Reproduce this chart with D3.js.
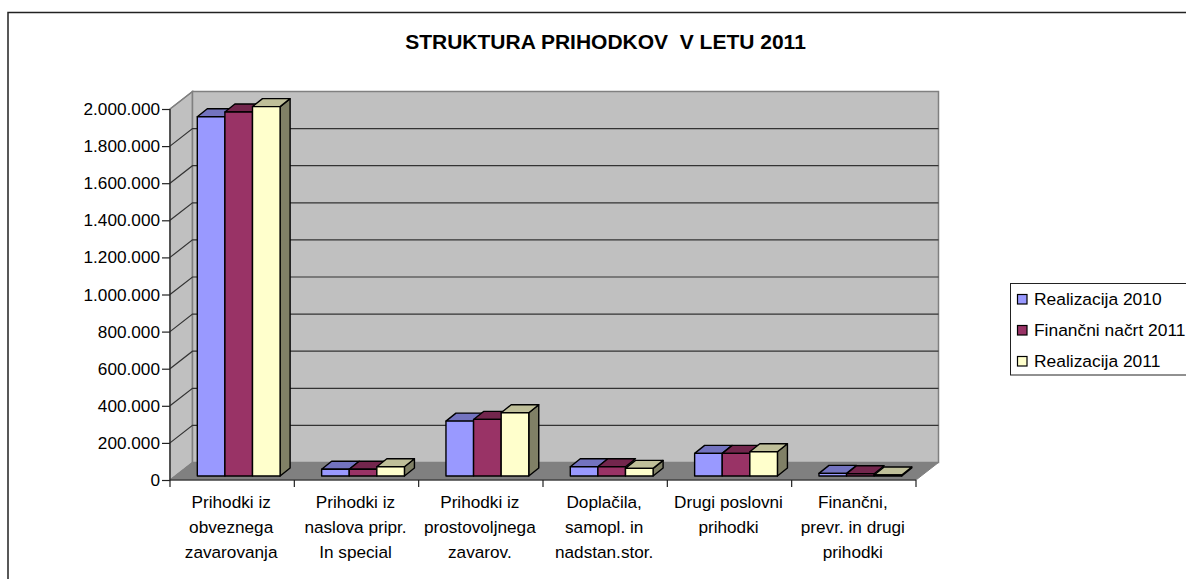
<!DOCTYPE html>
<html><head><meta charset="utf-8">
<script src="https://cdn.jsdelivr.net/npm/d3@7/dist/d3.min.js"></script>
<style>html,body{margin:0;padding:0;background:#fff}svg{display:block}text{font-family:"Liberation Sans",Arial,sans-serif;fill:#000}</style>
</head><body><svg id="c" width="1186" height="579"></svg>
<script>
const categories = ["Prihodki iz obveznega zavarovanja","Prihodki iz naslova pripr. In special","Prihodki iz prostovoljnega zavarov.","Doplačila, samopl. in nadstan.stor.","Drugi poslovni prihodki","Finančni, prevr. in drugi prihodki"];
const categoryLines = [["Prihodki iz","obveznega","zavarovanja"],["Prihodki iz","naslova pripr.","In special"],["Prihodki iz","prostovoljnega","zavarov."],["Doplačila,","samopl. in","nadstan.stor."],["Drugi poslovni","prihodki"],["Finančni,","prevr. in drugi","prihodki"]];
const seriesNames = ["Realizacija 2010","Finančni načrt 2011","Realizacija 2011"];
const realizacija2010 = [1937000,36000,296000,50000,122000,14000];
const nacrt2011 = [1962000,36000,305000,50000,122000,12000];
const realizacija2011 = [1991000,50000,341000,41000,131000,5000];
const tickValues = [0,200000,400000,600000,800000,1000000,1200000,1400000,1600000,1800000,2000000];
const front = ["#9999ff","#993366","#ffffcc"];
const topc = ["#7373bf","#73264d","#bfbf99"];
const side = ["#666699","#662244","#808066"];

const series=[realizacija2010,nacrt2011,realizacija2011];
const svg=d3.select("#c");
const L=170,R=916,B=480,T=109,DX=22.5,DY=17.5;
const x=d3.scaleBand().domain(categories).range([L,R]);
const y=d3.scaleLinear().domain([0,2000000]).range([B,T]);
const fmt=v=>d3.format(",")(v).replace(/,/g,".");

svg.append("rect").attr("x",8).attr("y",12.5).attr("width",1200).attr("height",600).attr("fill","#fff").attr("stroke","#222").attr("stroke-width",1.5);
svg.append("text").attr("x",605.5).attr("y",49).attr("text-anchor","middle").attr("font-size",21).attr("font-weight","bold").attr("xml:space","preserve").text("STRUKTURA PRIHODKOV  V LETU 2011");

// walls
svg.append("path").attr("d",`M${L},${B}L${L},${T}L${L+DX},${T-DY}L${L+DX},${B-DY}Z`).attr("fill","#c0c0c0").attr("stroke","#808080").attr("stroke-width",1.5);
svg.append("rect").attr("x",L+DX).attr("y",T-DY).attr("width",R-L).attr("height",B-T).attr("fill","#c0c0c0").attr("stroke","#808080").attr("stroke-width",1.5);
svg.append("path").attr("d",`M${L},${B}L${R},${B}L${R+DX},${B-DY}L${L+DX},${B-DY}Z`).attr("fill","#808080").attr("stroke","#808080");
// gridlines
tickValues.slice(1).forEach((t,i)=>{
  const g=svg.append("path").attr("fill","none").attr("stroke",i==tickValues.length-2?"#808080":"#333").attr("stroke-width",1.2);
  g.attr("d",`M${L},${y(t)}L${L+DX},${y(t)-DY}L${R+DX},${y(t)-DY}`);
});
// axes
const ax=svg.append("g").attr("transform",`translate(${L},0)`).call(d3.axisLeft(y).tickValues(tickValues).tickFormat(fmt).tickSize(8).tickPadding(2));
ax.selectAll("text").attr("font-size",17.2).attr("font-family",null);
ax.selectAll("line,path").attr("stroke","#222").attr("stroke-width",1.2);
ax.select("path").attr("d",`M0,${T}L0,${B}`);
const bx=svg.append("g").attr("transform",`translate(0,${B})`).call(d3.axisBottom(x).tickFormat("").tickSize(0));
bx.select("path").attr("d",`M${L},0L${R},0`).attr("stroke","#222").attr("stroke-width",1.2);
bx.selectAll(".tick").remove();
d3.range(categories.length+1).forEach(i=>{
  const px=i<categories.length?x(categories[i]):R;
  bx.append("line").attr("x1",px).attr("x2",px).attr("y1",0).attr("y2",7).attr("stroke","#222").attr("stroke-width",1.2);
});
categories.forEach((c,i)=>{
  const t=svg.append("text").attr("text-anchor","middle").attr("font-size",17.2);
  categoryLines[i].forEach((s,j)=>t.append("tspan").attr("x",x(c)+x.bandwidth()/2-1).attr("y",508+j*25).text(s));
});
// bars
const bw=27.6,base=4,off=27.3,dx=10,dy=8;
const h=v=>y(0)-y(v);
categories.forEach((c,i)=>{
  [0,1,2].forEach(k=>{
    const x0=x(c)+off+k*bw, x1=x0+bw, yb=B-base, yt=yb-h(series[k][i]);
    const g=svg.append("g").attr("stroke","#000").attr("stroke-width",1.4).attr("stroke-linejoin","round");
    if(k==2) g.append("path").attr("d",`M${x1},${yb}L${x1+dx},${yb-dy}L${x1+dx},${yt-dy}L${x1},${yt}Z`).attr("fill",side[k]);
    g.append("path").attr("d",`M${x0},${yt}L${x0+dx},${yt-dy}L${x1+dx},${yt-dy}L${x1},${yt}Z`).attr("fill",topc[k]);
    g.append("rect").attr("x",x0).attr("y",yt).attr("width",bw).attr("height",yb-yt).attr("fill",front[k]);
  });
});
// legend
const lg=svg.append("g");
lg.append("rect").attr("x",1010.5).attr("y",283.5).attr("width",180).attr("height",91.5).attr("fill","#fff").attr("stroke","#222");
seriesNames.forEach((n,i)=>{
  const yy=299+i*31;
  lg.append("rect").attr("x",1017.5).attr("y",yy-4.5).attr("width",9.5).attr("height",9.5).attr("fill",front[i]).attr("stroke","#000").attr("stroke-width",1.2);
  lg.append("text").attr("x",1034).attr("y",yy+6).attr("font-size",17.4).text(n);
});
</script></body></html>
